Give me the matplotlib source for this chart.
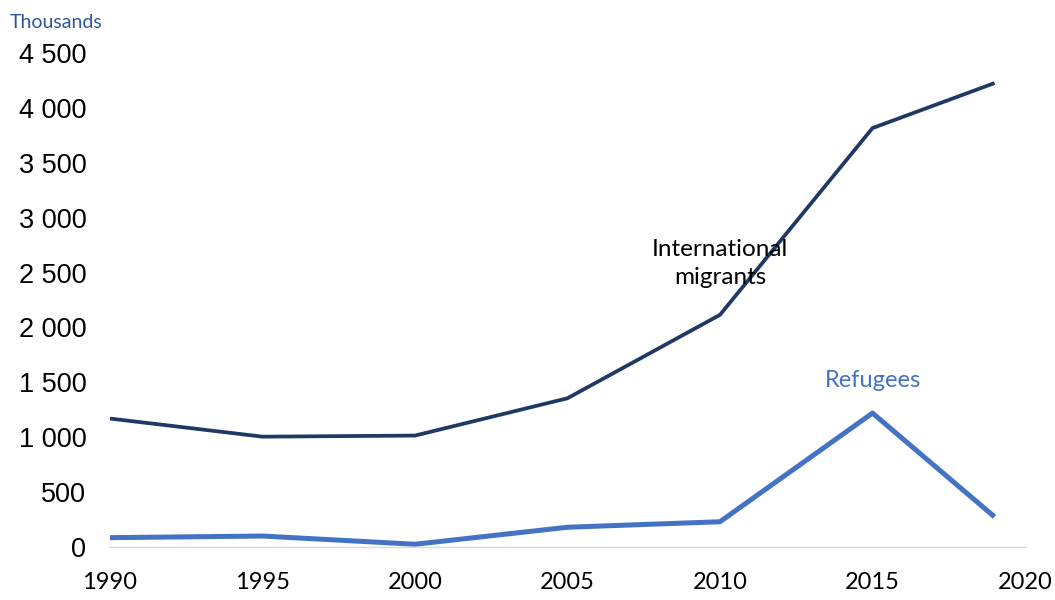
import matplotlib
matplotlib.use("Agg")
import matplotlib.pyplot as plt
from matplotlib.ticker import FuncFormatter

years = [1990, 1995, 2000, 2005, 2010, 2015, 2019]
migrants = [1170, 1005, 1015, 1355, 2115, 3816, 4226]
refugees = [85, 100, 25, 180, 230, 1220, 275]
yticks = [0, 500, 1000, 1500, 2000, 2500, 3000, 3500, 4000, 4500]
xticks = [1990, 1995, 2000, 2005, 2010, 2015, 2020]

fig = plt.figure(figsize=(10.55, 6), dpi=100)
ax = fig.add_axes([110/1055, 1-547/600, (1025-110)/1055, (547-53)/600])

ax.plot(years, migrants, color="#1F3864", lw=2.7, solid_capstyle="butt")
ax.plot(years, refugees, color="#4472C4", lw=3.6, solid_capstyle="butt")

ax.set_xlim(1990, 2020)
ax.set_ylim(0, 4500)
ax.set_xticks(xticks)
ax.set_yticks(yticks)
ax.yaxis.set_major_formatter(FuncFormatter(lambda v, p: f"{int(v):,}".replace(",", " ")))
ax.tick_params(axis="both", length=0)
ax.tick_params(axis="y", pad=17, labelsize=19.5)
ax.tick_params(axis="x", pad=18, labelsize=17)
for lbl in ax.get_yticklabels():
    lbl.set_fontfamily("Liberation Sans")
for lbl in ax.get_xticklabels():
    lbl.set_fontfamily("Lato")

for s in ["top", "right", "left"]:
    ax.spines[s].set_visible(False)
ax.spines["bottom"].set_color("#D9D9D9")
ax.spines["bottom"].set_linewidth(1.0)

fig.text(10/1055, 1-22/600, "Thousands", fontsize=14, color="#2F5597",
         family="Lato", ha="left", va="center")
ax.text(2010.0, 2585, "International\nmigrants", fontsize=17.5, color="black",
        family="Lato", ha="center", va="center", linespacing=1.4)
ax.text(2015.0, 1521, "Refugees", fontsize=17, color="#4472C4",
        family="Lato", ha="center", va="center")

fig.savefig("out.png", dpi=100)
